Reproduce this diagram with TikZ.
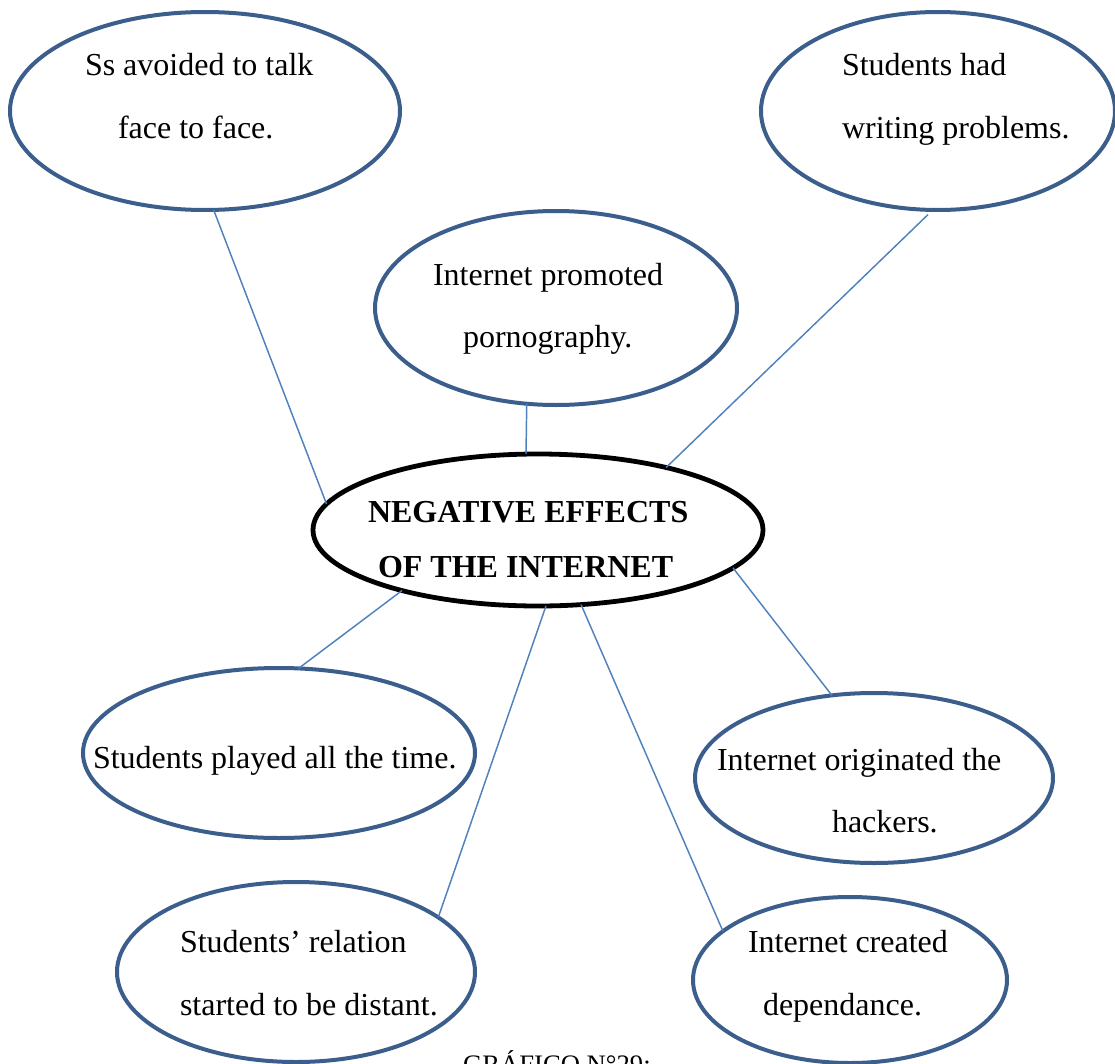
\documentclass[tikz,border=0pt]{standalone}
\usepackage{fontspec}
\setmainfont{Liberation Serif}
\usetikzlibrary{shapes.geometric}
\definecolor{ringblue}{HTML}{3B5E8C}
\definecolor{linkblue}{HTML}{4F81BD}
\tikzset{
  bubble/.style={ellipse, draw=ringblue, line width=3pt, fill=white, inner sep=0pt, outer sep=0pt},
  hub/.style={ellipse, draw=black, line width=3.6pt, fill=white, inner sep=0pt, outer sep=0pt},
  label/.style={anchor=base west, inner sep=0pt, outer sep=0pt, font=\fontsize{24pt}{28pt}\selectfont},
  hubtext/.style={label, font=\fontsize{24pt}{28pt}\selectfont\bfseries},
  link/.style={draw=linkblue, line width=1.1pt}
}
\begin{document}
\begin{tikzpicture}[x=0.75pt,y=-0.75pt]
\useasboundingbox (0,0) rectangle (1115,1064);
\clip (0,0) rectangle (1115,1064);
% ellipses
\node[bubble, minimum width=292.5pt, minimum height=148.5pt] (e1) at (205,111) {};
\node[bubble, minimum width=265.5pt, minimum height=148.5pt] (e2) at (938,111) {};
\node[bubble, minimum width=271.5pt, minimum height=145.5pt] (e3) at (556,308) {};
\node[hub, minimum width=337.5pt, minimum height=114pt] (e4) at (538,530) {};
\node[bubble, minimum width=294pt, minimum height=127.5pt] (e5) at (279,753) {};
\node[bubble, minimum width=268.5pt, minimum height=127.5pt] (e6) at (874,778) {};
\node[bubble, minimum width=268.5pt, minimum height=135pt] (e7) at (296,972) {};
\node[bubble, minimum width=235.5pt, minimum height=124.5pt] (e8) at (850,980) {};
% connectors
\draw[link] (e1.-85.4) -- (e4.173.5);
\draw[link, shorten <=5pt] (e2.-93.5) -- (e4.26);
\draw[link] (e3.-107.7) -- (e4.99.7);
\draw[link] (e4.-156.1) -- (e5.77.4);
\draw[link] (e4.-84.7) -- (e7.21.9);
\draw[link] (e4.-60.5) -- (e8.159.7);
\draw[link] (e4.-11.7) -- (e6.117.9);
% texts
\node[label] (t1a) at (85,75) {Ss avoided to talk};
\node[label] (t1b) at (118,138) {face to face.};
\node[label] (t2a) at (842,75) {Students had};
\node[label] (t2b) at (842,138) {writing problems.};
\node[label] (t3a) at (433,285) {Internet promoted};
\node[label] (t3b) at (463,347) {pornography.};
\node[hubtext] (t4a) at (368,522) {NEGATIVE EFFECTS};
\node[hubtext] (t4b) at (378,577) {OF THE INTERNET};
\node[label] (t5a) at (93,768) {Students played all the time.};
\node[label] (t6a) at (717,770) {Internet originated the};
\node[label] (t6b) at (832,832) {hackers.};
\node[label] (t7a) at (180,952) {Students’ relation};
\node[label] (t7b) at (180,1015) {started to be distant.};
\node[label] (t8a) at (748,952) {Internet created};
\node[label] (t8b) at (763,1015) {dependance.};
\node[label, font=\fontsize{20pt}{24pt}\selectfont] (cap) at (463,1073) {GRÁFICO N°29:};
\end{tikzpicture}
\end{document}
